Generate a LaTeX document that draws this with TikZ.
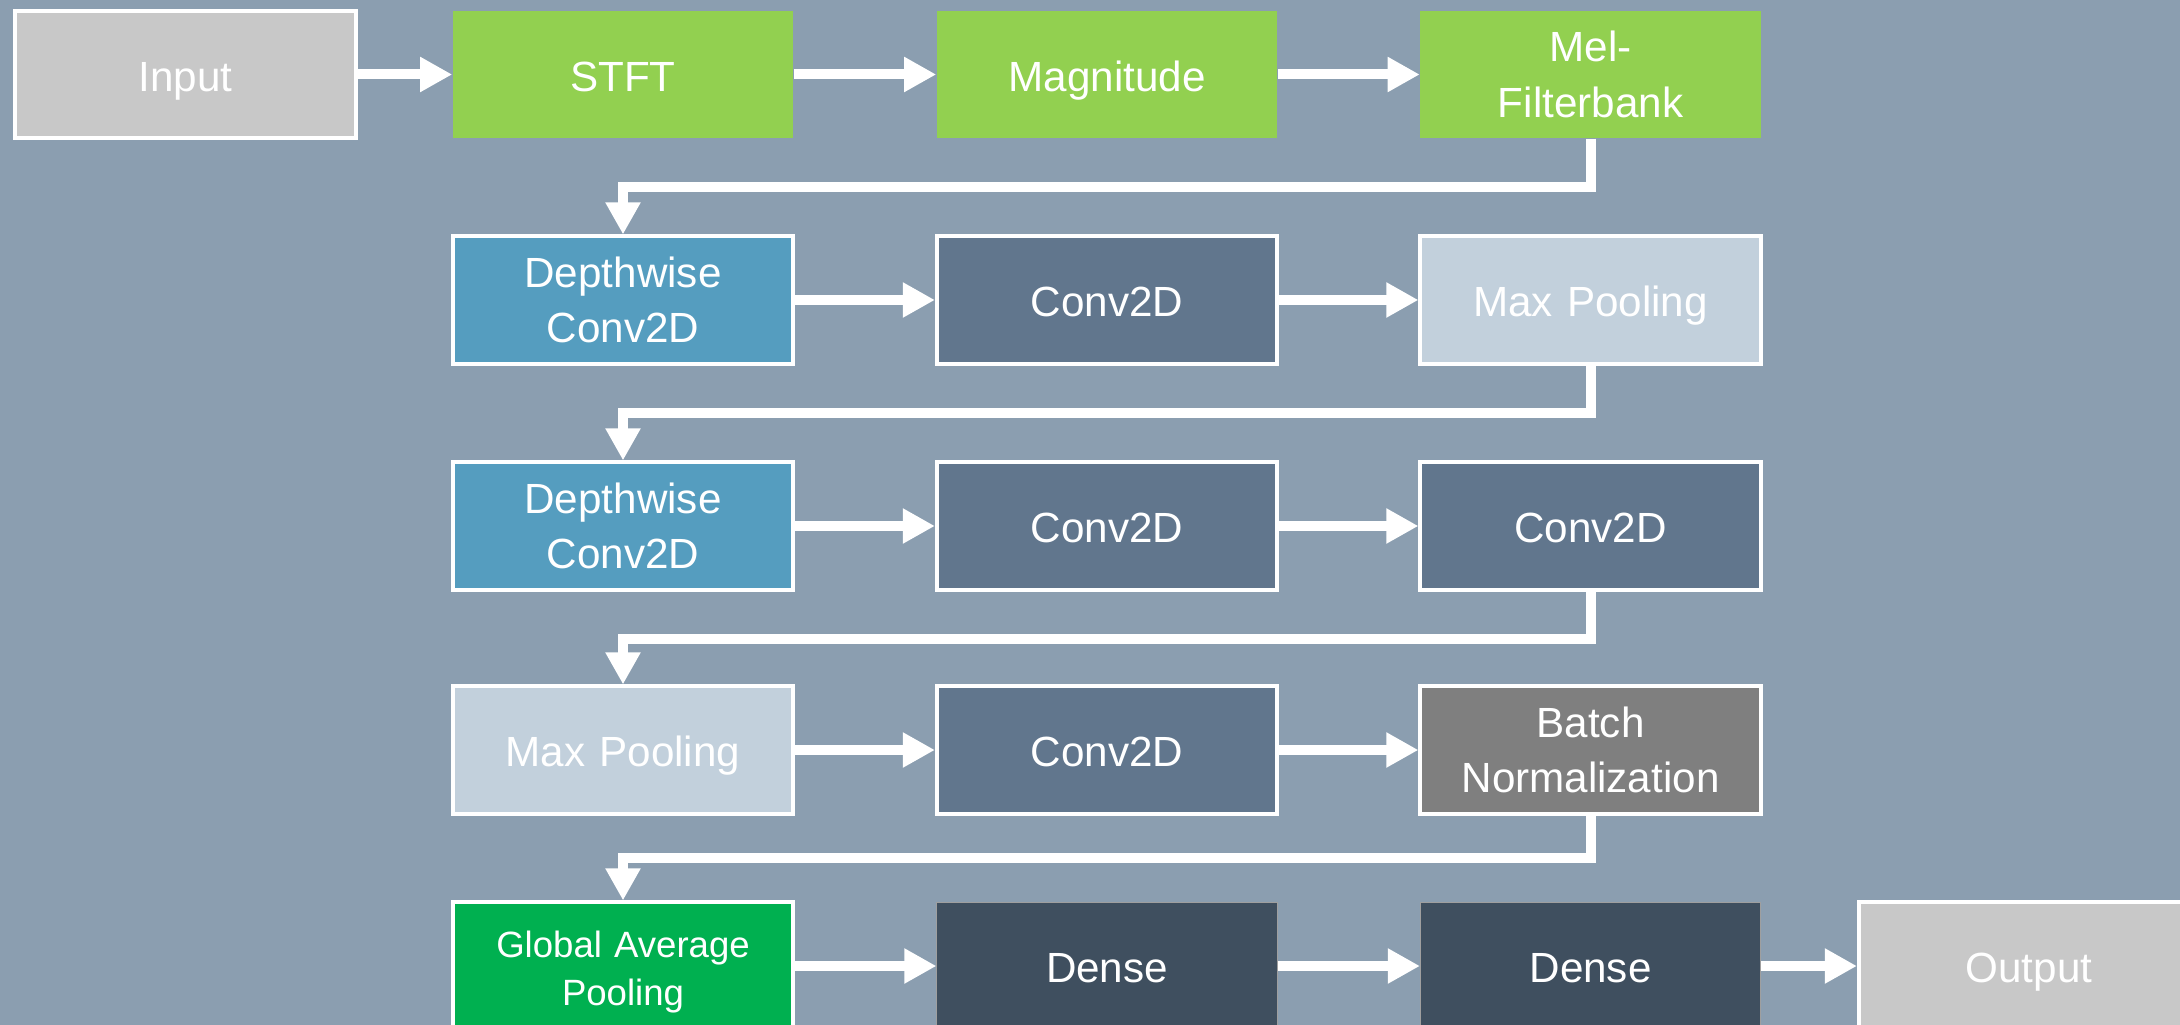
\documentclass[tikz,border=0pt]{standalone}
\usepackage{fontspec}
\setmainfont{Liberation Sans}
\usetikzlibrary{arrows.meta}
\definecolor{bgc}{HTML}{8B9EB0}
\definecolor{iog}{HTML}{C8C8C8}
\definecolor{lgreen}{HTML}{92D050}
\definecolor{dwblue}{HTML}{559DBF}
\definecolor{convc}{HTML}{61768D}
\definecolor{poolc}{HTML}{C2D0DC}
\definecolor{bnc}{HTML}{7F7F7F}
\definecolor{gapc}{HTML}{00B050}
\definecolor{densec}{HTML}{3F4F5F}
\tikzset{
  blk/.style={minimum width=3.4cm, minimum height=1.27cm, inner sep=0pt, text=white,
    font=\fontsize{12pt}{15.8pt}\selectfont, align=center, text width=3.3cm},
  one/.style={text height=9.4pt, text depth=0pt},
  wb/.style={blk, draw=white, line width=0.04cm},
  nb/.style={blk},
  db/.style={blk, fill=densec, draw=gray!75, line width=0.01cm},
  conn/.style={draw=white, line width=0.1cm, line join=miter,
    -{Triangle[length=0.32cm, width=0.33cm]}},
}
\begin{document}
\begin{tikzpicture}[x=0.01cm, y=-0.01cm]
\fill[bgc] (0,0) rectangle (2180,1025);
\useasboundingbox (0,0) rectangle (2180,1025);
% row 1
\node[wb, one, fill=iog] (inp) at (185.5,74.5) {Input};
\node[nb, one, fill=lgreen] (stft) at (623,74.5) {STFT};
\node[nb, one, fill=lgreen] (mag) at (1107,74.5) {Magnitude};
\node[nb, fill=lgreen] (mel) at (1590.5,74.5) {Mel-\\Filterbank};
% row 2
\node[wb, fill=dwblue] (dw1) at (623,300) {Depthwise\\Conv2D};
\node[wb, one, fill=convc] (cv1) at (1107,300) {Conv2D};
\node[wb, one, fill=poolc] (mp1) at (1590.5,300) {Max Pooling};
% row 3
\node[wb, fill=dwblue] (dw2) at (623,526) {Depthwise\\Conv2D};
\node[wb, one, fill=convc] (cv2) at (1107,526) {Conv2D};
\node[wb, one, fill=convc] (cv3) at (1590.5,526) {Conv2D};
% row 4
\node[wb, one, fill=poolc] (mp2) at (623,750) {Max Pooling};
\node[wb, one, fill=convc] (cv4) at (1107,750) {Conv2D};
\node[wb, fill=bnc] (bn) at (1590.5,750) {Batch\\Normalization};
% row 5
\node[wb, fill=gapc, font=\fontsize{10.4pt}{13.6pt}\selectfont, minimum height=1.39cm] (gap) at (623,972) {Global Average\\Pooling};
\node[db, one] (d1) at (1107,966) {Dense};
\node[db, one] (d2) at (1590.5,966) {Dense};
\node[wb, one, fill=iog] (out) at (2029,966) {Output};
% turn levels
\coordinate (t1) at (0,187);
\coordinate (t2) at (0,413);
\coordinate (t3) at (0,639);
\coordinate (t4) at (0,858);
% connectors
\draw[conn] (inp) -- (stft);
\draw[conn] (stft) -- (mag);
\draw[conn] (mag) -- (mel);
\draw[conn] (mel.south) -- (mel.south |- t1) -| (dw1.north);
\draw[conn] (dw1) -- (cv1);
\draw[conn] (cv1) -- (mp1);
\draw[conn] (mp1.south) -- (mp1.south |- t2) -| (dw2.north);
\draw[conn] (dw2) -- (cv2);
\draw[conn] (cv2) -- (cv3);
\draw[conn] (cv3.south) -- (cv3.south |- t3) -| (mp2.north);
\draw[conn] (mp2) -- (cv4);
\draw[conn] (cv4) -- (bn);
\draw[conn] (bn.south) -- (bn.south |- t4) -| (gap.north);
\draw[conn] (gap.east |- d1.west) -- (d1.west);
\draw[conn] (d1) -- (d2);
\draw[conn] (d2) -- (out);
\end{tikzpicture}
\end{document}
